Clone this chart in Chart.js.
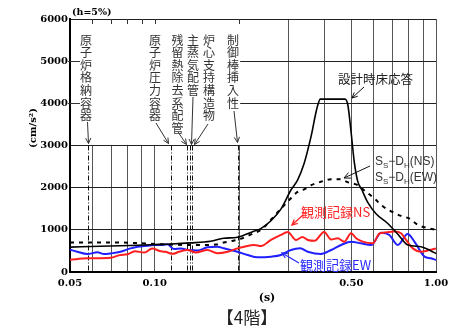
<!DOCTYPE html>
<html>
<head>
<meta charset="utf-8">
<script src="https://cdn.jsdelivr.net/npm/chart.js@4/dist/chart.umd.min.js"></script>
<style>
  html, body { margin: 0; padding: 0; background: #fff; }
  #wrap { width: 466px; height: 329px; position: relative; }
</style>
</head>
<body>
<div id="wrap"><canvas id="c" width="466" height="329"></canvas></div>
<script>
// Period grid (s) and acceleration grid (cm/s²)
const periodTicks = [0.05, 0.06, 0.07, 0.08, 0.09, 0.10, 0.2, 0.3, 0.4, 0.5, 0.6, 0.7, 0.8, 0.9, 1.0];
const labeledPeriods = [0.05, 0.10, 0.50, 1.00];
const accelTicks = [0, 1000, 2000, 3000, 4000, 5000, 6000];

// Design floor response spectrum
const designT = [0.05, 0.064, 0.082, 0.10, 0.115, 0.134, 0.158, 0.176, 0.197, 0.223, 0.239, 0.259, 0.281, 0.305, 0.322, 0.340, 0.350, 0.362, 0.372, 0.380, 0.388, 0.475, 0.486, 0.499, 0.512, 0.527, 0.545, 0.572, 0.612, 0.674, 0.731, 0.794, 0.885, 0.96, 1.0];
const designA = [590, 610, 630, 650, 665, 690, 730, 800, 825, 955, 1035, 1215, 1490, 1945, 2180, 2580, 2890, 3300, 3700, 3960, 4100, 4100, 3960, 3320, 2620, 2150, 1950, 1650, 1380, 1150, 900, 640, 600, 500, 440];

// Ss-DH spectrum
const ssdhT = [0.05, 0.06, 0.07, 0.08, 0.09, 0.10, 0.115, 0.13, 0.15, 0.165, 0.176, 0.19, 0.20, 0.223, 0.24, 0.26, 0.28, 0.30, 0.322, 0.34, 0.36, 0.39, 0.424, 0.453, 0.49, 0.527, 0.555, 0.602, 0.647, 0.692, 0.751, 0.802, 0.861, 0.935, 1.0];
const ssdhA = [700, 700, 700, 695, 680, 665, 650, 640, 640, 650, 700, 740, 775, 910, 1010, 1250, 1490, 1700, 1900, 1960, 2060, 2140, 2200, 2200, 2120, 2060, 1940, 1750, 1560, 1440, 1330, 1270, 1120, 1040, 1000];

// Observed record, NS
const nsT = [0.05, 0.0577, 0.0698, 0.075, 0.080, 0.085, 0.092, 0.098, 0.104, 0.109, 0.116, 0.122, 0.131, 0.140, 0.154, 0.167, 0.182, 0.197, 0.208, 0.226, 0.239, 0.259, 0.281, 0.297, 0.318, 0.335, 0.35, 0.37, 0.40, 0.424, 0.447, 0.472, 0.499, 0.52, 0.549, 0.596, 0.629, 0.655, 0.711, 0.751, 0.783, 0.827, 0.885, 0.947, 1.0];
const nsA = [290, 325, 340, 400, 420, 495, 460, 560, 500, 480, 430, 480, 520, 465, 520, 445, 480, 560, 600, 640, 615, 760, 880, 950, 760, 830, 760, 740, 950, 770, 800, 720, 920, 800, 720, 680, 910, 935, 960, 920, 760, 560, 480, 520, 560];

// Observed record, EW
const ewT = [0.05, 0.053, 0.0577, 0.0626, 0.066, 0.0698, 0.0757, 0.0821, 0.0868, 0.0943, 0.0995, 0.105, 0.111, 0.117, 0.124, 0.131, 0.142, 0.154, 0.167, 0.176, 0.197, 0.214, 0.232, 0.259, 0.281, 0.305, 0.329, 0.35, 0.39, 0.424, 0.46, 0.499, 0.54, 0.588, 0.638, 0.683, 0.731, 0.793, 0.838, 0.91, 0.96, 1.0];
const ewA = [530, 480, 425, 470, 425, 440, 480, 560, 600, 625, 640, 640, 657, 545, 560, 522, 510, 586, 600, 562, 481, 403, 348, 363, 403, 522, 562, 481, 427, 522, 640, 719, 680, 640, 930, 877, 640, 900, 719, 363, 325, 285];

// Natural periods of the evaluated equipment (s)
const markerPeriods = [0.0578, 0.114, 0.130, 0.133, 0.1355, 0.198];
const componentLabels = ['原子炉格納容器', '原子炉圧力容器', '残留熱除去系配管', '主蒸気配管', '炉心支持構造物', '制御棒挿入性'];

const toPoints = (xs, ys) => xs.map((x, i) => ({ x, y: ys[i] }));

function arrow(ctx, x1, y1, x2, y2, head) {
  head = head || 6;
  ctx.beginPath(); ctx.moveTo(x1, y1); ctx.lineTo(x2, y2); ctx.stroke();
  const a = Math.atan2(y2 - y1, x2 - x1);
  ctx.beginPath();
  ctx.moveTo(x2 - head * Math.cos(a - 0.45), y2 - head * Math.sin(a - 0.45));
  ctx.lineTo(x2, y2);
  ctx.lineTo(x2 - head * Math.cos(a + 0.45), y2 - head * Math.sin(a + 0.45));
  ctx.stroke();
}

// Text with subscript runs: [text, isSub]
function richText(ctx, parts, x, y, size, color) {
  ctx.fillStyle = color;
  ctx.textAlign = 'left';
  ctx.textBaseline = 'alphabetic';
  let cx = x;
  for (const [t, sub] of parts) {
    ctx.font = (sub ? Math.round(size * 0.7) : size) + 'px "Liberation Sans", Arial, sans-serif';
    ctx.fillText(t, cx, sub ? y + 3 : y);
    cx += ctx.measureText(t).width;
  }
}

const panelPlugin = {
  id: 'panel',
  beforeDatasetsDraw(chart) {
    const { ctx } = chart;
    const xs = chart.scales.x, ys = chart.scales.y;
    const left = xs.left, top = ys.top;
    const x02 = xs.getPixelForValue(0.2);
    const y3k = ys.getPixelForValue(3000);
    const y0 = ys.getPixelForValue(0);
    ctx.save();
    // clear the label area above 3000 for short periods
    ctx.fillStyle = '#fff';
    ctx.fillRect(left + 1.5, top + 1, x02 + 0.8 - (left + 1.5), y3k - 0.6 - (top + 1));
    // short ticks along the top and left edges of that area
    ctx.strokeStyle = '#333';
    ctx.lineWidth = 1;
    periodTicks.filter(p => p > 0.05 && p <= 0.2).forEach(p => {
      const px = Math.round(xs.getPixelForValue(p)) + 0.5;
      ctx.beginPath(); ctx.moveTo(px, top); ctx.lineTo(px, top + 5); ctx.stroke();
    });
    [4000, 5000].forEach(v => {
      const py = Math.round(ys.getPixelForValue(v)) + 0.5;
      ctx.beginPath(); ctx.moveTo(left - 2, py); ctx.lineTo(left + 10, py); ctx.stroke();
    });
    // dash-dot lines at equipment periods
    ctx.strokeStyle = '#111';
    ctx.setLineDash([5, 2, 1, 2]);
    markerPeriods.forEach(p => {
      const px = Math.round(xs.getPixelForValue(p)) + 0.5;
      ctx.beginPath(); ctx.moveTo(px, y3k); ctx.lineTo(px, y0); ctx.stroke();
    });
    ctx.restore();
  },
  afterDraw(chart) {
    const { ctx } = chart;
    const xs = chart.scales.x, ys = chart.scales.y;
    ctx.save();

    // vertical component labels
    const cols = [86, 155, 177.5, 193, 209, 233];
    ctx.fillStyle = '#333';
    ctx.font = '12px "Noto Sans CJK JP", sans-serif';
    ctx.textAlign = 'center';
    ctx.textBaseline = 'middle';
    componentLabels.forEach((s, i) => {
      [...s].forEach((ch, k) => ctx.fillText(ch, cols[i], 40 + k * 12.6));
    });

    // leaders from labels to dash-dot lines
    const y3k = ys.getPixelForValue(3000);
    const mx = markerPeriods.map(p => Math.round(xs.getPixelForValue(p)) + 0.5);
    ctx.strokeStyle = '#333';
    ctx.lineWidth = 1;
    arrow(ctx, 87.5, 122, mx[0], y3k - 2, 6);
    arrow(ctx, 156, 123, mx[1] - 3, y3k - 2, 6);
    arrow(ctx, 178, 132, mx[2] - 1, y3k - 1, 6);
    arrow(ctx, 193, 97, mx[3] + 1, y3k - 1, 6);
    arrow(ctx, 208, 124, mx[4] + 2, y3k - 1, 6);
    arrow(ctx, 234, 111, mx[5] - 1, y3k - 3, 6);

    // design spectrum label
    ctx.fillStyle = '#222';
    ctx.font = '12.5px "Noto Sans CJK JP", sans-serif';
    ctx.textAlign = 'left';
    ctx.fillText('設計時床応答', 338, 79);
    ctx.strokeStyle = '#111';
    arrow(ctx, 364, 87, 352, 98, 6);

    // Ss-DH labels
    richText(ctx, [['S', false], ['S', true], ['−', false], ['D', false], ['H', true], ['(NS)', false]], 375, 165, 12, '#333');
    richText(ctx, [['S', false], ['S', true], ['−', false], ['D', false], ['H', true], ['(EW)', false]], 375, 181, 12, '#333');
    ctx.strokeStyle = '#111';
    arrow(ctx, 370, 166, 344, 178, 7);

    // observed records
    ctx.textBaseline = 'middle';
    ctx.font = '13px "Noto Sans CJK JP", sans-serif';
    ctx.fillStyle = '#ff2020';
    ctx.fillText('観測記録NS', 301, 212);
    ctx.strokeStyle = '#ff2020';
    ctx.lineWidth = 1.3;
    arrow(ctx, 303, 215, 292, 225, 6);
    ctx.fillStyle = '#2a2aff';
    ctx.fillText('観測記録EW', 300, 265);
    ctx.strokeStyle = '#2a2aff';
    arrow(ctx, 299, 263, 282, 253, 6);

    // header and axis titles
    ctx.fillStyle = '#000';
    ctx.font = 'bold 9.5px "DejaVu Serif", serif';
    ctx.textAlign = 'left';
    ctx.fillText('(h=5%)', 72, 13);
    ctx.font = 'bold 11px "DejaVu Serif", serif';
    ctx.textAlign = 'center';
    ctx.fillText('(s)', 267, 298);
    ctx.save();
    ctx.translate(33, 128);
    ctx.rotate(-Math.PI / 2);
    ctx.font = 'bold 10px "DejaVu Serif", serif';
    ctx.fillText('(cm/s²)', 0, 0);
    ctx.restore();

    ctx.fillStyle = '#222';
    ctx.font = '17px "Noto Sans CJK JP", sans-serif';
    ctx.textAlign = 'center';
    ctx.fillText('【4階】', 247, 318);
    ctx.restore();
  }
};

new Chart(document.getElementById('c'), {
  type: 'line',
  data: {
    datasets: [
      { label: '設計時床応答', data: toPoints(designT, designA), borderColor: '#000', borderWidth: 1.6, pointRadius: 0, cubicInterpolationMode: 'monotone', fill: false },
      { label: 'Ss-DH', data: toPoints(ssdhT, ssdhA), borderColor: '#000', borderWidth: 2, borderDash: [4, 5], pointRadius: 0, cubicInterpolationMode: 'monotone', fill: false },
      { label: '観測記録NS', data: toPoints(nsT, nsA), borderColor: '#ff1f1f', borderWidth: 2, pointRadius: 0, cubicInterpolationMode: 'monotone', fill: false },
      { label: '観測記録EW', data: toPoints(ewT, ewA), borderColor: '#1f1fff', borderWidth: 2, pointRadius: 0, cubicInterpolationMode: 'monotone', fill: false }
    ]
  },
  options: {
    responsive: false,
    animation: false,
    devicePixelRatio: 1,
    layout: { padding: { top: 19, right: 30, left: 0, bottom: 0 } },
    plugins: { legend: { display: false }, tooltip: { enabled: false } },
    scales: {
      x: {
        type: 'logarithmic',
        min: 0.05,
        max: 1.0,
        afterBuildTicks: s => { s.ticks = periodTicks.map(v => ({ value: v })); },
        afterFit: s => { s.height = 57; },
        grid: { color: '#555', lineWidth: 1, drawTicks: false },
        border: { color: '#000', width: 2 },
        ticks: {
          autoSkip: false,
          maxRotation: 0,
          padding: 5,
          color: '#000',
          font: { family: '"DejaVu Serif", serif', size: 10, weight: 'bold' },
          callback: v => labeledPeriods.some(p => Math.abs(p - v) < 1e-6) ? Number(v).toFixed(2) : ''
        }
      },
      y: {
        type: 'linear',
        min: 0,
        max: 6000,
        afterBuildTicks: s => { s.ticks = accelTicks.map(v => ({ value: v })); },
        afterFit: s => { s.width = 70; },
        grid: { color: '#222', lineWidth: 1, drawTicks: false },
        border: { color: '#000', width: 2 },
        ticks: {
          padding: 2,
          color: '#000',
          font: { family: '"DejaVu Serif", serif', size: 10, weight: 'bold' },
          callback: v => String(v)
        }
      }
    }
  },
  plugins: [panelPlugin]
});
</script>
</body>
</html>
